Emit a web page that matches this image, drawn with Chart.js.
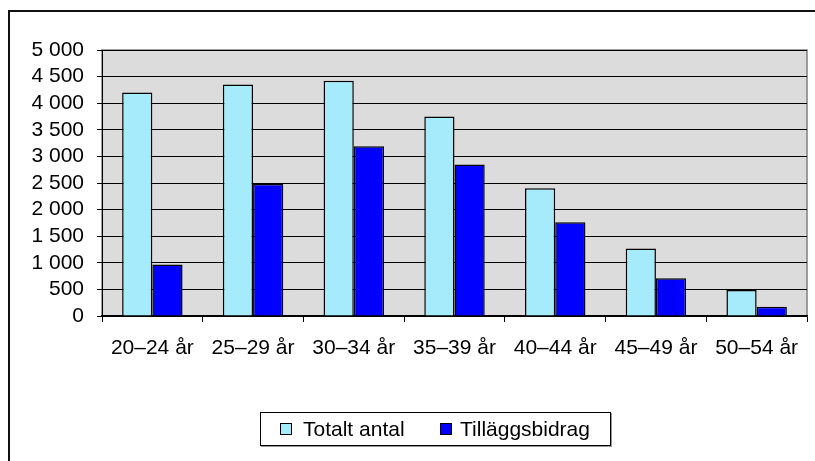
<!DOCTYPE html>
<html>
<head>
<meta charset="utf-8">
<script src="https://cdn.jsdelivr.net/npm/chart.js@4"></script>
<style>
  html, body { margin:0; padding:0; background:#fff; overflow:hidden; }
  #wrap { position:relative; width:815px; height:461px; }
  #frame { position:absolute; left:8px; top:10px; width:900px; height:600px; border:2px solid #111; box-sizing:border-box; }
  canvas { position:absolute; left:0; top:0; }
  #legend { position:absolute; left:260px; top:412px; width:351px; height:34px; box-sizing:border-box;
    border:1px solid #000; box-shadow:1px 1px 0 #999; background:#fff;
    font-family:"Liberation Sans", Arial, sans-serif; font-size:21px; color:#000; }
  .item { position:absolute; top:3px; line-height:26px; white-space:nowrap; }
  .sw { position:absolute; top:10px; width:10px; height:10px; border:1px solid #000; }
</style>
</head>
<body>
<div id="wrap">
  <div id="frame"></div>
  <canvas id="c" width="815" height="461"></canvas>
  <div id="legend"></div>
</div>
<script>
const categories = ['20–24 år', '25–29 år', '30–34 år', '35–39 år', '40–44 år', '45–49 år', '50–54 år'];
const seriesNames = ['Totalt antal', 'Tilläggsbidrag'];
const totaltAntal = [4200, 4350, 4420, 3750, 2400, 1270, 490];
const tillaggsbidrag = [970, 2480, 3190, 2850, 1760, 710, 175];
const yTicks = [0, 500, 1000, 1500, 2000, 2500, 3000, 3500, 4000, 4500, 5000];
const seriesColors = ['#A6EBFC', '#0000FF'];

function fmt(v) {
  const s = String(v);
  return s.length > 3 ? s.slice(0, s.length - 3) + ' ' + s.slice(-3) : s;
}

const plotBg = {
  id: 'plotBg',
  beforeDraw(chart) {
    const a = chart.chartArea, ctx = chart.ctx;
    ctx.save();
    ctx.fillStyle = '#DCDCDC';
    ctx.fillRect(a.left, a.top, a.right - a.left, a.bottom - a.top);
    ctx.strokeStyle = '#808080';
    ctx.lineWidth = 1.5;
    ctx.strokeRect(a.left, a.top, a.right - a.left, a.bottom - a.top);
    ctx.restore();
  }
};

const font = { family: '"Liberation Sans", Arial, sans-serif', size: 21 };

new Chart(document.getElementById('c'), {
  type: 'bar',
  data: {
    labels: categories,
    datasets: [
      { label: seriesNames[0], data: totaltAntal, backgroundColor: seriesColors[0], borderColor: '#000', borderWidth: 1.5 },
      { label: seriesNames[1], data: tillaggsbidrag, backgroundColor: seriesColors[1], borderColor: '#000', borderWidth: 1.5 }
    ]
  },
  options: {
    responsive: false,
    animation: false,
    layout: { padding: { left: 0, right: 8, top: 50, bottom: 0 } },
    datasets: { bar: { categoryPercentage: 0.6, barPercentage: 1.0 } },
    plugins: { legend: { display: false }, tooltip: { enabled: false } },
    scales: {
      x: {
        grid: { offset: true, drawOnChartArea: false, drawTicks: true, tickLength: 6, color: '#000', lineWidth: 1 },
        border: { color: '#000', width: 1.5 },
        ticks: { font: font, color: '#000', padding: 14, maxRotation: 0, autoSkip: false },
        afterFit(s) { s.height = 145; }
      },
      y: {
        min: 0, max: 5000,
        afterBuildTicks(s) { s.ticks = yTicks.map(v => ({ value: v })); },
        grid: { color: '#000', lineWidth: 1, tickLength: 5, drawTicks: true },
        border: { color: '#000', width: 1 },
        ticks: { font: font, color: '#000', padding: 13, autoSkip: false, callback: v => fmt(v) },
        afterFit(s) { s.width = 102; }
      }
    }
  },
  plugins: [plotBg]
});

const lg = document.getElementById('legend');
const pos = [{ sw: 19, tx: 42 }, { sw: 179, tx: 199 }];
seriesNames.forEach((n, i) => {
  const sw = document.createElement('div');
  sw.className = 'sw';
  sw.style.left = pos[i].sw + 'px';
  sw.style.background = seriesColors[i];
  lg.appendChild(sw);
  const t = document.createElement('div');
  t.className = 'item';
  t.style.left = pos[i].tx + 'px';
  t.textContent = n;
  lg.appendChild(t);
});
</script>
</body>
</html>
